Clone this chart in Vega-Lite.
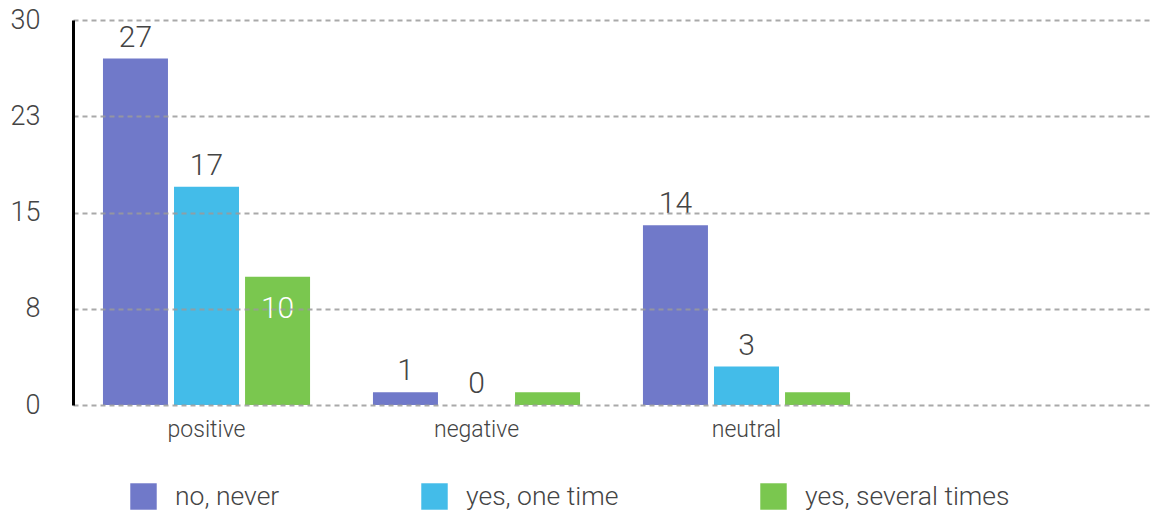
{
  "$schema": "https://vega.github.io/schema/vega-lite/v6.json",
  "autosize": "none",
  "width": 1077,
  "height": 385,
  "padding": {"left": 73, "top": 20, "right": 6, "bottom": 108},
  "background": "white",
  "config": {
    "view": {"stroke": null},
    "font": "Roboto",
    "text": {"font": "Roboto", "fontWeight": 300}
  },
  "data": {
    "values": [
      {"sentiment": "positive", "response": "no, never", "value": 27},
      {"sentiment": "positive", "response": "yes, one time", "value": 17},
      {"sentiment": "positive", "response": "yes, several times", "value": 10},
      {"sentiment": "negative", "response": "no, never", "value": 1},
      {"sentiment": "negative", "response": "yes, one time", "value": 0},
      {"sentiment": "negative", "response": "yes, several times", "value": 1},
      {"sentiment": "neutral", "response": "no, never", "value": 14},
      {"sentiment": "neutral", "response": "yes, one time", "value": 3},
      {"sentiment": "neutral", "response": "yes, several times", "value": 1}
    ]
  },
  "encoding": {
    "x": {
      "field": "sentiment",
      "type": "nominal",
      "sort": null,
      "scale": {"domain": ["positive", "negative", "neutral", "_"], "paddingInner": 0.233, "paddingOuter": 0.111},
      "axis": {
        "title": null,
        "domain": false,
        "ticks": false,
        "labelAngle": 0,
        "labelFont": "Roboto",
        "labelFontWeight": 300,
        "labelFontSize": 23,
        "labelColor": "#444444",
        "labelPadding": 13,
        "labelExpr": "datum.value == '_' ? '' : datum.label"
      }
    },
    "xOffset": {
      "field": "response",
      "type": "nominal",
      "sort": ["no, never", "yes, one time", "yes, several times"],
      "scale": {"paddingInner": 0.085, "paddingOuter": 0}
    },
    "y": {
      "field": "value",
      "type": "quantitative",
      "scale": {"domain": [0, 30], "nice": false},
      "axis": {
        "title": null,
        "values": [0, 7.5, 15, 22.5, 30],
        "format": ".0f",
        "domain": true,
        "domainColor": "#000000",
        "domainWidth": 3,
        "ticks": false,
        "grid": true,
        "gridColor": "#9a9a9a",
        "gridOpacity": 0.85,
        "gridWidth": 2,
        "gridDash": [5, 4],
        "labelFont": "Roboto",
        "labelFontWeight": 300,
        "labelFontSize": 27,
        "labelColor": "#444444",
        "labelPadding": 33,
        "zindex": 1
      }
    }
  },
  "layer": [
    {
      "mark": {"type": "bar"},
      "encoding": {
        "color": {
          "field": "response",
          "type": "nominal",
          "sort": ["no, never", "yes, one time", "yes, several times"],
          "scale": {
            "domain": ["no, never", "yes, one time", "yes, several times"],
            "range": ["#7079C9", "#43BCE9", "#7AC74F"]
          },
          "legend": {
            "title": null,
            "orient": "none",
            "legendX": 57,
            "legendY": 463,
            "direction": "horizontal",
            "symbolType": "square",
            "symbolSize": 700,
            "symbolStrokeWidth": 0,
            "symbolOpacity": 1,
            "labelFont": "Roboto",
            "labelFontWeight": 300,
            "labelFontSize": 26.5,
            "labelColor": "#444444",
            "labelOffset": 18,
            "columnPadding": 141,
            "labelLimit": 400
          }
        }
      }
    },
    {
      "transform": [
        {"filter": "datum.response != 'yes, several times'"}
      ],
      "mark": {"type": "text", "baseline": "alphabetic", "dy": -12, "fontSize": 30, "fontWeight": 300, "color": "#444444"},
      "encoding": {"text": {"field": "value", "type": "quantitative"}}
    },
    {
      "transform": [
        {"filter": "datum.response == 'yes, several times' && datum.sentiment == 'positive'"}
      ],
      "mark": {"type": "text", "baseline": "alphabetic", "dy": 41, "fontSize": 30, "fontWeight": 300, "color": "#ffffff"},
      "encoding": {"text": {"field": "value", "type": "quantitative"}}
    }
  ]
}
